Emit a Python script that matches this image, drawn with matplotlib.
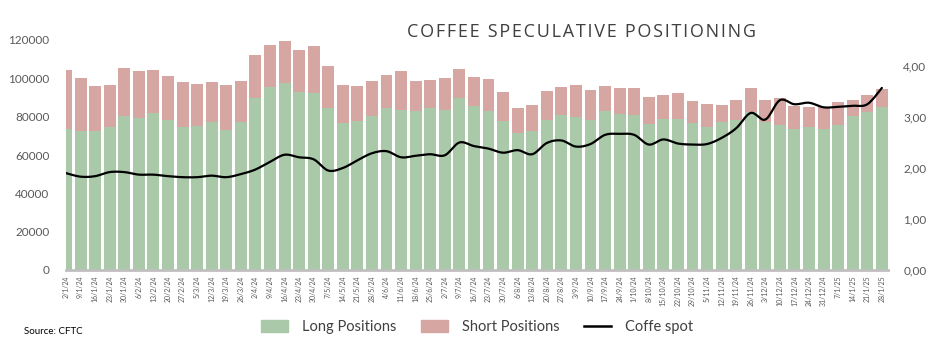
import numpy as np
import matplotlib.pyplot as plt
from matplotlib.lines import Line2D
from matplotlib.patches import Patch

plt.rcParams['font.family'] = ['Lato', 'DejaVu Sans']

# weekly dates
dates = ["2/1/24", "9/1/24", "16/1/24", "23/1/24", "30/1/24", "6/2/24", "13/2/24", "20/2/24",
         "27/2/24", "5/3/24", "12/3/24", "19/3/24", "26/3/24", "2/4/24", "9/4/24", "16/4/24",
         "23/4/24", "30/4/24", "7/5/24", "14/5/24", "21/5/24", "28/5/24", "4/6/24", "11/6/24",
         "18/6/24", "25/6/24", "2/7/24", "9/7/24", "16/7/24", "23/7/24", "30/7/24", "6/8/24",
         "13/8/24", "20/8/24", "27/8/24", "3/9/24", "10/9/24", "17/9/24", "24/9/24", "1/10/24",
         "8/10/24", "15/10/24", "22/10/24", "29/10/24", "5/11/24", "12/11/24", "19/11/24",
         "26/11/24", "3/12/24", "10/12/24", "17/12/24", "24/12/24", "31/12/24", "7/1/25",
         "14/1/25", "21/1/25", "28/1/25"]

long_pos = [73600, 72500, 72500, 74600, 80500, 79500, 81900, 78400, 74600, 75300, 77400, 73200,
            77400, 89900, 95500, 97600, 93000, 92300, 84700, 76700, 77700, 80500, 84700, 83650,
            82950, 84700, 83650, 89900, 85700, 82950, 77700, 71500, 72500, 78400, 80900, 79800,
            78400, 82950, 81550, 80900, 76350, 78800, 78800, 76700, 74600, 77400, 78400, 82600,
            77400, 75650, 73550, 74600, 73550, 75650, 80500, 82400, 85000]

total_pos = [104350, 100200, 96000, 96500, 105400, 103800, 104350, 101200, 98100, 97000, 98100,
             96500, 98600, 112200, 117400, 119500, 114800, 116900, 106400, 96500, 96000, 98600,
             101700, 103800, 98600, 99100, 100200, 104900, 100700, 99650, 92900, 84500, 86100,
             93550, 95500, 96500, 93900, 96000, 94950, 94950, 90250, 91300, 92350, 88150, 86600,
             86100, 88850, 94950, 88850, 89750, 85550, 85050, 85050, 87850, 88850, 91300, 94450]
short_pos = [t - l for t, l in zip(total_pos, long_pos)]

spot = [1.90, 1.83, 1.84, 1.92, 1.92, 1.87, 1.87, 1.84, 1.82, 1.82, 1.85, 1.82, 1.88, 1.97,
        2.12, 2.26, 2.21, 2.17, 1.95, 2.00, 2.15, 2.29, 2.33, 2.21, 2.24, 2.27, 2.25, 2.50,
        2.43, 2.38, 2.30, 2.35, 2.27, 2.49, 2.54, 2.42, 2.47, 2.65, 2.67, 2.65, 2.46, 2.56,
        2.48, 2.46, 2.47, 2.59, 2.78, 3.08, 2.95, 3.33, 3.25, 3.28, 3.19, 3.20, 3.22, 3.25,
        3.57]

green = "#A9C9A9"
red = "#D6A6A2"
txt = "#595959"

x = np.arange(len(dates))

fig = plt.figure(figsize=(9.52, 3.59), dpi=100)
ax = fig.add_axes([66 / 952, 89 / 359, 822 / 952, 230 / 359])

ax.bar(x, long_pos, width=0.82, color=green)
ax.bar(x, short_pos, width=0.82, bottom=long_pos, color=red)

ax.set_xlim(0, len(dates) - 1 + 0.42)
ax.set_ylim(0, 120000)
ax.set_yticks(range(0, 120001, 20000))
ax.set_yticklabels([str(v) for v in range(0, 120001, 20000)])
ax.set_xticks(x)
ax.set_xticklabels(dates, rotation=90, fontsize=5, color=txt)
ax.tick_params(axis='y', length=0, pad=12, labelsize=8.5, labelcolor=txt)
ax.tick_params(axis='x', length=0, pad=4)
for s in ["top", "right", "left"]:
    ax.spines[s].set_visible(False)
ax.spines["bottom"].set_color("#BFBFBF")
ax.spines["bottom"].set_linewidth(2)

# smoothed line (Catmull-Rom, like Excel's smoothed line)
ax2 = ax.twinx()
p = np.array(spot)
pp = np.concatenate([[p[0]], p, [p[-1]]])
xx = np.concatenate([[x[0]], x, [x[-1]]]).astype(float)
sx, sy = [], []
t = np.linspace(0, 1, 12, endpoint=False)
for i in range(1, len(pp) - 2):
    for arr, out in ((xx, sx), (pp, sy)):
        p0, p1, p2, p3 = arr[i - 1], arr[i], arr[i + 1], arr[i + 2]
        out.extend(0.5 * (2 * p1 + (-p0 + p2) * t + (2 * p0 - 5 * p1 + 4 * p2 - p3) * t ** 2
                          + (-p0 + 3 * p1 - 3 * p2 + p3) * t ** 3))
sx.append(x[-1])
sy.append(p[-1])
ax2.plot(sx, sy, color="black", lw=1.6, solid_capstyle="round")
ax2.set_ylim(0, 4.51)
ax2.set_yticks([0, 1, 2, 3, 4])
ax2.set_yticklabels(["0,00", "1,00", "2,00", "3,00", "4,00"])
ax2.tick_params(axis='y', length=0, pad=11, labelsize=8.5, labelcolor=txt)
for s in ["top", "right", "left", "bottom"]:
    ax2.spines[s].set_visible(False)

# letter-spaced title
title = "\u200a".join("COFFEE SPECULATIVE POSITIONING")
fig.text(0.611, 0.911, title, ha="center", va="center",
         fontsize=13, color="#404040", family=["Open Sans", "DejaVu Sans"])

handles = [Patch(color=green), Patch(color=red), Line2D([], [], color="black", lw=1.8)]
fig.legend(handles, ["Long Positions", "Short Positions", "Coffe spot"], loc="center",
           bbox_to_anchor=(0.501, 0.089), ncol=3, frameon=False, fontsize=10.5,
           labelcolor="#404040", handlelength=1.85, handleheight=0.8, columnspacing=1.7,
           handletextpad=0.95)

fig.text(24 / 952, 1 - 331 / 359, "Source: CFTC", fontsize=7, color="black", va="center")

fig.savefig("out.png", dpi=100)
